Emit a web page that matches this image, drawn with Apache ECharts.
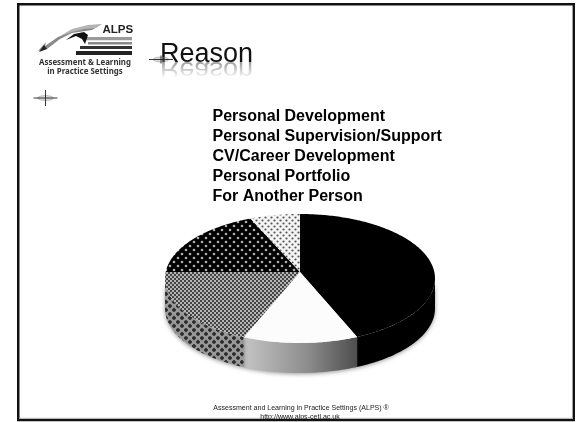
<!DOCTYPE html>
<html><head><meta charset="utf-8">
<style>html,body{margin:0;padding:0;background:#fff}#c{width:576px;height:422px}</style>
<script src="https://cdn.jsdelivr.net/npm/echarts@6/dist/echarts.min.js"></script>
</head><body><div id="c"></div>
<script>
const categories = ['Personal Development','Personal Supervision/Support','CV/Career Development','Personal Portfolio','For Another Person'];
const shares = [43.7, 12.5, 18.8, 18.4, 6.6];
const titleText = 'Reason';
const footerLines = ['Assessment and Learning in Practice Settings (ALPS) ®','http://www.alps-cetl.ac.uk'];
const logoLines = ['Assessment & Learning','in Practice Settings'];

function tile(w,h,draw){const c=document.createElement('canvas');c.width=w;c.height=h;draw(c.getContext('2d'));return {image:c,repeat:'repeat'};}
const checker=tile(4,4,g=>{g.fillStyle='#b4b4b4';g.fillRect(0,0,4,4);g.fillStyle='#444';g.fillRect(0,0,2,2);g.fillRect(2,2,2,2);});
const darkDots=tile(8,8,g=>{g.fillStyle='#000';g.fillRect(0,0,8,8);g.fillStyle='#b0b0b0';
  [[2,2],[6,6]].forEach(p=>{g.beginPath();g.arc(p[0],p[1],1.3,0,7);g.fill();});});
const lightDots=tile(6,6,g=>{g.fillStyle='#f4f4f4';g.fillRect(0,0,6,6);g.fillStyle='#555';
  [[1.5,1.5],[4.5,4.5]].forEach(p=>{g.beginPath();g.arc(p[0],p[1],1.1,0,7);g.fill();});});
const wallHatch=tile(8,8,g=>{g.fillStyle='#9a9a9a';g.fillRect(0,0,8,8);g.fillStyle='#2e2e2e';
  [[2,2],[6,6]].forEach(p=>{g.beginPath();g.moveTo(p[0],p[1]-2.4);g.lineTo(p[0]+2.4,p[1]);g.lineTo(p[0],p[1]+2.4);g.lineTo(p[0]-2.4,p[1]);g.closePath();g.fill();});});
const topFills=['#000','#fcfcfc',checker,darkDots,lightDots];
const wallFills=['#000',{type:'linear',x:244,y:0,x2:357,y2:0,global:true,colorStops:[{offset:0,color:'#c4c4c4'},{offset:.55,color:'#8e8e8e'},{offset:1,color:'#4e4e4e'}]},wallHatch,null,null];

const CX=300, CY=272, R=135, DEPTH=30, TILT=-0.1008, YS=63.85, XS=134.3;
const project=p=>{const u=(p[0]-CX)/R, v=(p[1]-CY)/R, d=1+TILT*v; return [CX+XS*u/d, CY+YS*v/d];};
function renderSlice(i){return function(params,api){
  const a=api.value(1), b=api.value(2), kids=[], rim=[];
  for(let t=a;t<b;t+=0.25) rim.push(project(api.coord([1,t])));
  rim.push(project(api.coord([1,b])));
  const fa=Math.max(a,26.6), fb=Math.min(b,73.4);
  if(wallFills[i]&&fb>fa){
    const up=[];
    for(let t=fa;t<fb;t+=0.25) up.push(project(api.coord([1,t])));
    up.push(project(api.coord([1,fb])));
    const wall=up.concat(up.slice().reverse().map(p=>[p[0],p[1]+DEPTH]));
    kids.push({type:'polygon',shape:{points:wall},style:{fill:wallFills[i],shadowBlur:4,shadowColor:'rgba(0,0,0,.4)',shadowOffsetY:1}});
  }
  const centre=project(api.coord([0,0]));
  kids.push({type:'polygon',shape:{points:[centre].concat(rim)},style:{fill:topFills[i]}});
  return {type:'group',children:kids};
};}
let cum=0;
const series=categories.map((name,i)=>{const s=cum;cum+=shares[i];return {
  type:'custom',name,coordinateSystem:'polar',silent:true,animation:false,z:5,
  encode:{radius:0,angle:1},data:[[1,s,cum]],renderItem:renderSlice(i)};});

const K='#000';
const rect=(x,y,w,h,f)=>({type:'rect',shape:{x,y,width:w,height:h},style:{fill:f},silent:true});
const line=(x1,y1,x2,y2,s,w)=>({type:'line',shape:{x1,y1,x2,y2},style:{stroke:s||K,lineWidth:w||1},silent:true});
const txt=(x,base,t,font,extra)=>{const size=parseFloat(font.match(/([\d.]+)px/)[1]);
  return {type:'text',x,y:base+.21*size,style:Object.assign({text:t,font,fill:'#000',verticalAlign:'bottom'},extra||{}),silent:true};};
const poly=(pts,f,sm)=>({type:'polygon',shape:{points:pts,smooth:sm||0},style:{fill:f},silent:true});
const cross=(cx,cy,hw,vh)=>[
  {type:'ellipse',shape:{cx,cy,rx:hw*.65,ry:2.5},style:{fill:'rgba(150,150,150,.35)',stroke:'rgba(110,110,110,.6)',lineWidth:.6},silent:true},
  line(cx-hw,cy,cx+hw,cy,'#222',.9),line(cx,cy-vh,cx,cy+vh,'#222',.9)];

const chart=echarts.init(document.getElementById('c'),null,{width:576,height:422,renderer:'canvas'});
chart.setOption({
  backgroundColor:'#fff',animation:false,
  polar:{center:[CX,CY],radius:R},
  angleAxis:{type:'value',min:0,max:100,startAngle:90,clockwise:true,show:false},
  radiusAxis:{type:'value',min:0,max:1,show:false},
  legend:{show:true,orient:'vertical',left:207.5,top:108.5,itemWidth:0,itemHeight:0,itemGap:4,padding:0,icon:'rect',selectedMode:false,
    data:categories,textStyle:{fontFamily:'Liberation Sans',fontWeight:'bold',fontSize:16,color:'#000',padding:0,lineHeight:16}},
  series,
  graphic:{elements:[
    rect(17,3,558,2.5,'#111'),rect(17,419,558,2.2,'#111'),rect(17,3,2.5,418,'#111'),rect(572.6,3,2.4,418,'#111'),
    rect(19.5,417.8,553,1.2,'#bbb'),
    txt(102.5,33.5,'ALPS','bold 11.5px "Liberation Sans"',{fill:'#222'}),
    rect(84,37,48,3.2,'#9a9a9a'),rect(88,42,44,2.6,'#8a8a8a'),rect(80,46,52,3,'#333'),rect(76,51,56,4,'#222'),
    poly([[38,51],[46,42],[45,46],[58,37],[78,29],[102,24],[92,30],[72,33],[60,39],[47,49],[42,50]],'#8a8a8a'),
    poly([[60,36],[72,29],[88,25],[101,24],[96,28],[84,29],[72,32]],'#b4b4b4'),
    poly([[66,40],[74,34],[84,32],[88,35],[85,44],[82,39],[76,36]],'#111'),
    poly([[39,52],[44,45],[47,49]],'#222'),
    txt(85,65.5,logoLines[0],'bold 7.9px "Noto Sans"',{align:'center',fill:'#333'}),
    txt(85,74.5,logoLines[1],'bold 7.9px "Noto Sans"',{align:'center',fill:'#333'}),
    txt(160,62,titleText,'27px "Liberation Sans"',{fill:'#111'}),
    {type:'text',x:160,y:62,scaleY:-0.95,style:{x:0,y:.21*27,text:titleText,font:'27px "Liberation Sans"',fill:'#555',verticalAlign:'bottom',opacity:.75},silent:true},
    {type:'rect',shape:{x:155,y:62,width:105,height:20},silent:true,style:{fill:{type:'linear',x:0,y:0,x2:0,y2:1,colorStops:[{offset:0,color:'rgba(255,255,255,.2)'},{offset:.8,color:'rgba(255,255,255,1)'},{offset:1,color:'#fff'}]}}},
    ...cross(161,59.5,12,4),
    ...cross(45.5,98,12,8),
    txt(301,410,footerLines[0],'7.05px "Liberation Sans"',{align:'center',fill:'#222'}),
    txt(300,419,footerLines[1],'7.05px "Liberation Sans"',{align:'center',fill:'#222'}),
    rect(19.5,419,553,2,'#111')
  ]}
});
</script></body></html>
